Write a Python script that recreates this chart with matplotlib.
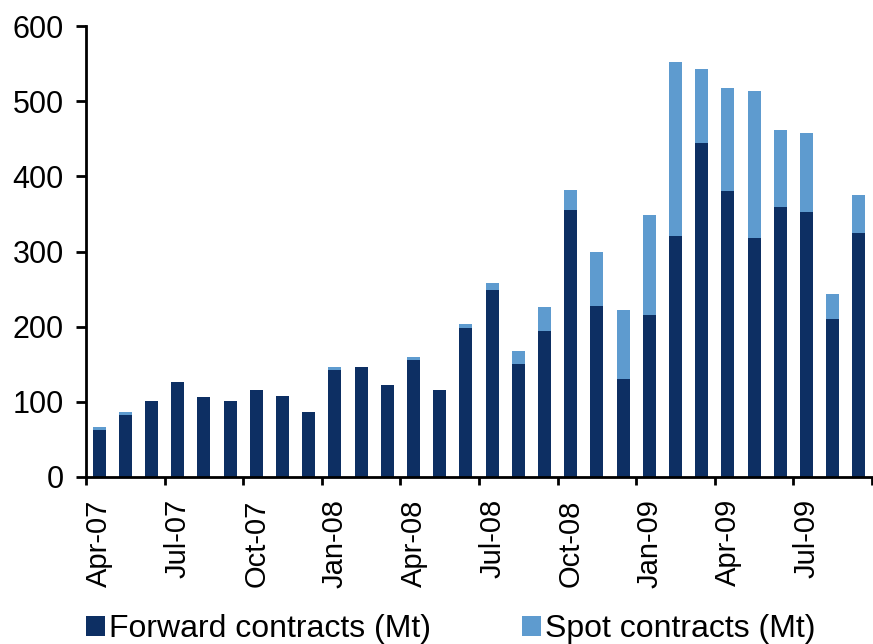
import matplotlib
matplotlib.use("Agg")
import matplotlib.pyplot as plt
import numpy as np
from matplotlib.patches import Patch

months = ["Apr-07", "May-07", "Jun-07", "Jul-07", "Aug-07", "Sep-07", "Oct-07", "Nov-07",
          "Dec-07", "Jan-08", "Feb-08", "Mar-08", "Apr-08", "May-08", "Jun-08", "Jul-08",
          "Aug-08", "Sep-08", "Oct-08", "Nov-08", "Dec-08", "Jan-09", "Feb-09", "Mar-09",
          "Apr-09", "May-09", "Jun-09", "Jul-09", "Aug-09", "Sep-09"]

forward = [63, 82, 101, 127, 106, 101, 116, 108, 86, 142, 147, 123, 156, 116, 198, 249,
           150, 194, 355, 228, 131, 216, 321, 445, 381, 318, 359, 352, 210, 325]
total = [67, 86, 101, 127, 106, 101, 116, 108, 86, 146, 147, 123, 160, 116, 203, 258,
         168, 226, 382, 300, 222, 348, 552, 543, 517, 513, 461, 457, 243, 375]
spot = [t - f for t, f in zip(total, forward)]

tick_labels = ["Apr-07", "Jul-07", "Oct-07", "Jan-08", "Apr-08", "Jul-08", "Oct-08",
               "Jan-09", "Apr-09", "Jul-09"]

dark = "#0d2f63"
light = "#5e9bcf"

plt.rcParams['font.family'] = ['Liberation Sans', 'DejaVu Sans']

fig = plt.figure(figsize=(8.73, 6.44), dpi=100)
ax = fig.add_axes([86 / 873, 1 - 477 / 644, (872 - 86) / 873, (477 - 26) / 644])

x = np.arange(len(months)) + 0.5
ax.bar(x, forward, width=0.5, color=dark, label="Forward contracts (Mt)")
ax.bar(x, spot, width=0.5, bottom=forward, color=light, label="Spot contracts (Mt)")

ax.set_xlim(0, len(months))
ax.set_ylim(0, 600)
ax.set_yticks(np.arange(0, 601, 100))

ax.set_xticks(np.arange(0, len(months) + 1, 3))
ax.set_xticklabels([])
ax.set_xticks(np.arange(0, len(months), 3) + 0.5, minor=True)
ax.set_xticklabels(tick_labels, minor=True, rotation=90, fontsize=21)
ax.tick_params(axis='x', which='minor', length=0, pad=16)
ax.tick_params(axis='x', which='major', length=6, width=2, direction='out')
ax.tick_params(axis='y', length=7, width=2, direction='out', labelsize=22, pad=9)

for s in ['top', 'right']:
    ax.spines[s].set_visible(False)
for s in ['left', 'bottom']:
    ax.spines[s].set_linewidth(2)
    ax.spines[s].set_color('black')

handles = [Patch(facecolor=dark), Patch(facecolor=light)]
fig.legend(handles, ["Forward contracts (Mt)", "Spot contracts (Mt)"],
           loc='center left', bbox_to_anchor=(86 / 873, 1 - 629 / 644),
           ncol=2, frameon=False, fontsize=23, handlelength=0.6, handleheight=0.6,
           handletextpad=0.12, columnspacing=2.85, borderpad=0, borderaxespad=0)

fig.savefig("out.png", dpi=100)
